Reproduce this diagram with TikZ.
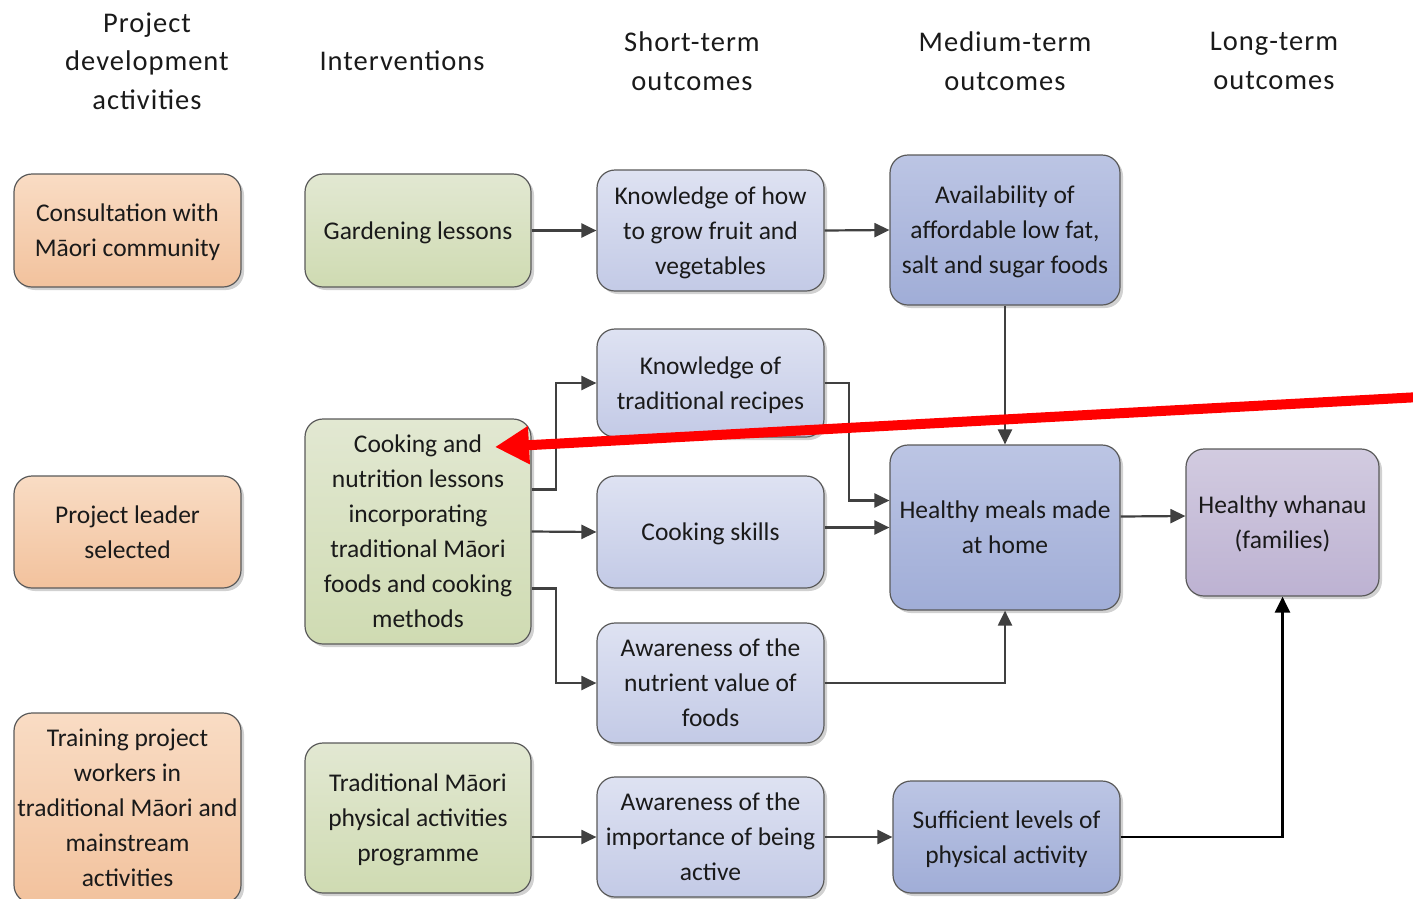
\documentclass[tikz,border=0pt]{standalone}
\usepackage{fontspec}
\setmainfont{Carlito}
\newfontfamily\hdrfont[LetterSpace=3.5]{Carlito}
\usetikzlibrary{arrows.meta,calc,shadows}

\definecolor{txt}{HTML}{1A1A1A}
\definecolor{edge}{HTML}{5A5A5A}
\definecolor{conn}{HTML}{404040}
\definecolor{orT}{HTML}{F9DCC4}\definecolor{orB}{HTML}{F2C29D}
\definecolor{grT}{HTML}{E2E8D2}\definecolor{grB}{HTML}{CFDBB2}
\definecolor{lbT}{HTML}{DEE2F2}\definecolor{lbB}{HTML}{C3CAE6}
\definecolor{dbT}{HTML}{BCC5E4}\definecolor{dbB}{HTML}{A0ADD7}
\definecolor{puT}{HTML}{D2CBE0}\definecolor{puB}{HTML}{BDB2D2}

\tikzset{
  box/.style={draw=edge, line width=1.2pt, rounded corners=18pt, align=center,
    text=txt, inner sep=2pt, text depth=0pt, font=\fontsize{25.5}{35}\selectfont,
    drop shadow={shadow xshift=3pt, shadow yshift=-3pt, opacity=0.18, fill=black}},
  orbox/.style={box, top color=orT, bottom color=orB},
  grbox/.style={box, top color=grT, bottom color=grB},
  lbbox/.style={box, top color=lbT, bottom color=lbB},
  dbbox/.style={box, top color=dbT, bottom color=dbB},
  pubox/.style={box, top color=puT, bottom color=puB},
  hdr/.style={align=center, text=txt, font=\hdrfont\fontsize{28.5}{38.5}\selectfont},
  arr/.style={draw=conn, line width=2.2pt, -{Triangle[length=15pt,width=14pt]}},
  blk/.style={draw=black, line width=2.6pt, -{Triangle[length=16pt,width=15pt]}},
  redarr/.style={draw=red, line width=10pt, -{Triangle[length=34pt,width=36pt]}}
}

\begin{document}
\begin{tikzpicture}[x=1pt, y=-1pt]
\useasboundingbox (0,0) rectangle (1413,898);
\clip (0,0) rectangle (1413,898);
\fill[white] (0,0) rectangle (1413,898);

% column headings
\node[hdr] (h1) at (147,61) {Project\\development\\activities};
\node[hdr] (h2) at (402,61) {Interventions};
\node[hdr] (h3) at (692,61) {Short-term\\outcomes};
\node[hdr] (h4) at (1005,61) {Medium-term\\outcomes};
\node[hdr] (h5) at (1274,61) {Long-term\\outcomes};

% project development activities
\node[orbox, minimum width=227pt, minimum height=113pt] (cons) at (127.5,230.5) {Consultation with\\Māori community};
\node[orbox, minimum width=227pt, minimum height=112pt] (lead) at (127.5,532) {Project leader\\selected};
\node[orbox, minimum width=227pt, minimum height=190pt] (train) at (127.5,808) {Training project\\workers in\\traditional Māori and\\mainstream\\activities};

% interventions
\node[grbox, minimum width=226pt, minimum height=113pt] (gard) at (418,230.5) {Gardening lessons};
\node[grbox, minimum width=226pt, minimum height=225pt] (cook) at (418,531.5) {Cooking and\\nutrition lessons\\incorporating\\traditional Māori\\foods and cooking\\methods};
\node[grbox, minimum width=226pt, minimum height=150pt] (tphys) at (418,818) {Traditional Māori\\physical activities\\programme};

% short-term outcomes
\node[lbbox, minimum width=227pt, minimum height=121pt] (khow) at (710.5,230.5) {Knowledge of how\\to grow fruit and\\vegetables};
\node[lbbox, minimum width=227pt, minimum height=108pt] (ktrad) at (710.5,383) {Knowledge of\\traditional recipes};
\node[lbbox, minimum width=227pt, minimum height=112pt] (cskill) at (710.5,532) {Cooking skills};
\node[lbbox, minimum width=227pt, minimum height=120pt] (anut) at (710.5,683) {Awareness of the\\nutrient value of\\foods};
\node[lbbox, minimum width=227pt, minimum height=120pt] (aimp) at (710.5,837) {Awareness of the\\importance of being\\active};

% medium-term outcomes
\node[dbbox, minimum width=230pt, minimum height=150pt] (avail) at (1005,230) {Availability of\\affordable low fat,\\salt and sugar foods};
\node[dbbox, minimum width=230pt, minimum height=165pt] (meals) at (1005,527.5) {Healthy meals made\\at home};
\node[dbbox, minimum width=227pt, minimum height=112pt] (suff) at (1006.5,837) {Sufficient levels of\\physical activity};

% long-term outcome
\node[pubox, minimum width=193pt, minimum height=147pt] (whanau) at (1282.5,522.5) {Healthy whanau\\(families)};

% connectors
\draw[arr] (gard.east) -- (khow.west);
\draw[arr] (khow.east) -- (avail.west);
\draw[arr] (avail.south) -- (meals.north);
\draw[arr] ($(cook.east)+(0,-42)$) -- ++(24,0) |- (ktrad.west);
\draw[arr] (cook.east) -- (cskill.west);
\draw[arr] ($(cook.east)+(0,57)$) -- ++(24,0) |- (anut.west);
\draw[arr] (ktrad.east) -- ++(24,0) |- ($(meals.west)+(0,-27)$);
\draw[arr] (cskill.east |- meals.west) -- (meals.west);
\draw[arr] (anut.east) -| (meals.south);
\draw[arr] ($(meals.east)+(0,-11)$) -- ($(whanau.west)+(0,-6.5)$);
\draw[arr] (tphys.east |- aimp.west) -- (aimp.west);
\draw[arr] (aimp.east) -- (suff.west);
\draw[blk] (suff.east) -| (whanau.south);

% highlight arrow
\coordinate (redstart) at (1420,397);
\coordinate (redtip) at (495,447);
\draw[redarr] (redstart) -- (redtip);
\end{tikzpicture}
\end{document}
